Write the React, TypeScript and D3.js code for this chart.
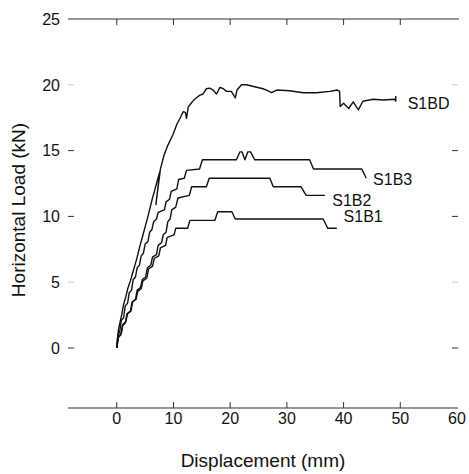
import React from 'react';
import * as d3 from 'd3';

// displacement (mm), load (kN) pairs
const s1bd: [number, number][] = [
  [0, 0], [0.1, 0.6], [0.3, 1.4], [0.6, 2.0], [0.9, 2.6], [1.2, 3.3], [1.6, 3.9],
  [2.0, 4.6], [2.4, 5.1], [2.8, 5.7], [3.2, 6.3], [3.6, 6.9], [4.05, 7.7], [4.5, 8.4],
  [5.0, 9.2], [5.5, 10.0], [5.9, 10.7], [6.3, 11.4], [6.7, 12.0], [7.2, 12.8], [7.6, 13.4],
  [6.9, 10.9], [7.7, 13.6], [8.3, 14.6], [9.0, 15.4], [9.9, 16.2], [10.6, 17.0], [11.2, 17.5],
  [11.7, 17.95], [12.1, 17.9], [12.3, 17.45], [12.6, 18.3], [13.1, 18.6], [13.5, 18.8],
  [14.0, 19.0], [14.6, 19.2], [15.2, 19.3], [15.8, 19.7], [16.4, 19.75], [17.0, 19.6],
  [17.6, 19.3], [18.2, 19.8], [18.8, 19.7], [19.4, 19.5], [20.2, 19.5], [20.9, 19.0],
  [21.2, 19.6], [22.0, 20.0], [22.9, 20.0], [24.3, 19.85], [25.8, 19.7], [26.6, 19.55],
  [27.3, 19.4], [28.2, 19.6], [30.5, 19.55], [32.9, 19.4], [35.2, 19.4], [37.6, 19.5],
  [38.9, 19.6], [39.3, 19.5], [39.4, 18.35], [40.0, 18.6], [40.9, 18.2], [41.7, 18.7],
  [42.6, 18.1], [43.4, 18.75], [45.2, 18.9], [47.0, 18.85], [49.0, 18.9], [49.2, 18.75],
  [49.2, 19.15],
];

const s1b3: [number, number][] = [
  [0, 0], [0.2, 1.0], [0.5, 1.2], [0.8, 2.1], [1.2, 2.3], [1.5, 3.2], [1.9, 3.4],
  [2.2, 4.2], [2.6, 4.4], [2.9, 5.2], [3.3, 5.4], [3.6, 6.1], [4.0, 6.3], [4.3, 7.0],
  [4.7, 7.2], [5.0, 7.9], [5.5, 8.1], [5.8, 8.8], [6.2, 9.0], [6.5, 9.6], [7.0, 9.8],
  [7.3, 10.3], [8.4, 10.5], [8.7, 11.1], [9.3, 11.3], [9.6, 11.9], [10.6, 12.1],
  [10.9, 12.8], [11.9, 12.9], [12.3, 13.5], [14.6, 13.6], [15.1, 14.3], [21.1, 14.3],
  [21.7, 14.9], [22.1, 14.9], [22.6, 14.3], [23.1, 14.9], [23.6, 14.9], [24.3, 14.3],
  [34.0, 14.3], [34.7, 13.6], [43.2, 13.6], [44.0, 12.9],
];

const s1b2: [number, number][] = [
  [0, 0], [0.3, 0.8], [0.7, 1.0], [1.0, 1.7], [1.5, 1.9], [1.8, 2.6], [2.4, 2.8],
  [2.7, 3.5], [3.3, 3.7], [3.6, 4.4], [4.2, 4.6], [4.5, 5.2], [5.1, 5.4], [5.4, 6.1],
  [6.0, 6.3], [6.3, 6.9], [7.0, 7.1], [7.3, 7.8], [7.9, 8.0], [8.2, 8.6], [8.7, 8.8],
  [9.0, 9.6], [9.4, 9.8], [9.7, 10.5], [10.4, 10.7], [10.8, 11.4], [12.8, 11.6],
  [13.2, 12.25], [15.8, 12.25], [16.3, 12.9], [27.0, 12.9], [27.6, 12.25], [32.5, 12.25],
  [33.4, 11.6], [36.7, 11.6],
];

const s1b1: [number, number][] = [
  [0, 0], [0.3, 0.9], [0.8, 1.1], [1.1, 1.8], [1.6, 2.0], [1.9, 2.6], [2.5, 2.8],
  [2.8, 3.5], [3.4, 3.7], [3.7, 4.3], [4.3, 4.5], [4.6, 5.1], [5.3, 5.3], [5.6, 6.0],
  [6.3, 6.2], [6.6, 6.8], [7.4, 7.0], [7.7, 7.6], [8.6, 7.8], [8.9, 8.4], [10.1, 8.6],
  [10.4, 9.1], [12.5, 9.1], [12.9, 9.7], [17.3, 9.7], [17.8, 10.35], [20.3, 10.35],
  [20.9, 9.8], [36.4, 9.8], [37.2, 9.1], [38.8, 9.1],
];

const seriesNames = ['S1BD', 'S1B3', 'S1B2', 'S1B1'];
const labelPos: [number, number][] = [[51.3, 18.6], [45.2, 12.8], [38.0, 11.2], [40.0, 10.0]];
const xTicks = [0, 10, 20, 30, 40, 50, 60];
const yTicks = [0, 5, 10, 15, 20, 25];
const fadedY = [5, 20];

const W = 469;
const H = 474;

export default function App() {
  const x = d3.scaleLinear().domain([-8.6, 60]).range([68, 457]);
  const y = d3.scaleLinear().domain([-4.56, 25]).range([408, 19]);
  const line = d3.line<[number, number]>().x(d => x(d[0])).y(d => y(d[1]));
  const series = [s1bd, s1b3, s1b2, s1b1];
  const font = '"Liberation Sans", Arial, Helvetica, sans-serif';

  return (
    <svg width={W} height={H} style={{ position: 'absolute', left: 0, top: 0, background: '#fff' }}
      fontFamily={font}>
      {/* frame: only top and bottom lines */}
      <line x1={68} x2={459} y1={y(25)} y2={y(25)} stroke="#333" strokeWidth={1} />
      <line x1={68} x2={458} y1={y(-4.56)} y2={y(-4.56)} stroke="#333" strokeWidth={1} />
      {xTicks.filter(t => t < 60).map(t => (
        <g key={'xt' + t}>
          <line x1={x(t)} x2={x(t)} y1={y(25)} y2={y(25) + 6} stroke="#333" />
          <line x1={x(t)} x2={x(t)} y1={y(-4.56)} y2={y(-4.56) - 6} stroke="#333" />
        </g>
      ))}
      {yTicks.filter(t => t < 25).map(t => (
        <g key={'yt' + t} opacity={fadedY.includes(t) ? 0.25 : 1}>
          <line x1={68} x2={74} y1={y(t)} y2={y(t)} stroke="#333" />
          <line x1={452} x2={458} y1={y(t)} y2={y(t)} stroke="#333" />
        </g>
      ))}
      {xTicks.map(t => (
        <text key={'xl' + t} x={x(t)} y={424} textAnchor="middle" fontSize={16} fill="#111">{t}</text>
      ))}
      {yTicks.map(t => (
        <text key={'yl' + t} x={60} y={y(t) + 5.8} textAnchor="end" fontSize={16} fill="#111">{t}</text>
      ))}
      {series.map((s, i) => (
        <path key={seriesNames[i]} d={line(s) || ''} fill="none" stroke="#111" strokeWidth={1.4}
          strokeLinejoin="round" />
      ))}
      {seriesNames.map((n, i) => (
        <text key={'lb' + n} x={x(labelPos[i][0])} y={y(labelPos[i][1]) + 5.8} fontSize={16} fill="#111">{n}</text>
      ))}
      <text x={263} y={467} textAnchor="middle" fontSize={19} fill="#111">Displacement (mm)</text>
      <text transform="translate(25,210) rotate(-90)" textAnchor="middle" fontSize={19} fill="#111">
        Horizontal Load (kN)
      </text>
    </svg>
  );
}
